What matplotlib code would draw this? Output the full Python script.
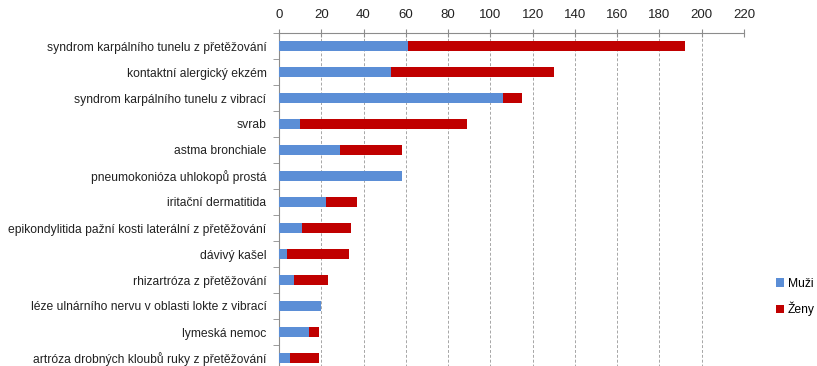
import numpy as np
import matplotlib
matplotlib.use('Agg')
import matplotlib.pyplot as plt

plt.rcParams['font.family'] = ['Liberation Sans', 'DejaVu Sans']

aCategory = ['syndrom karpálního tunelu z přetěžování',
             'kontaktní alergický ekzém',
             'syndrom karpálního tunelu z vibrací',
             'svrab',
             'astma bronchiale',
             'pneumokonióza uhlokopů prostá',
             'iritační dermatitida',
             'epikondylitida pažní kosti laterální z přetěžování',
             'dávivý kašel',
             'rhizartróza z přetěžování',
             'léze ulnárního nervu v oblasti lokte z vibrací',
             'lymeská nemoc',
             'artróza drobných kloubů ruky z přetěžování']
aMuzi = [61, 53, 106, 10, 29, 58, 22, 11, 4, 7, 20, 14, 5]
aZeny = [131, 77, 9, 79, 29, 0, 15, 23, 29, 16, 0, 5, 14]
aXticks = list(range(0, 221, 20))

sColor_m = '#5B8ED6'
sColor_z = '#C00000'
sColor_axis = '#8C8C8C'

fig = plt.figure(dpi=100)
fig.set_figwidth(8.17)
fig.set_figheight(3.66)
ax = fig.add_axes([279 / 817, -5 / 366, (744 - 279) / 817, (371 - 33) / 366])

nCat = len(aCategory)
aY = np.arange(nCat)
ax.barh(aY, aMuzi, height=0.4, color=sColor_m, label='Muži', zorder=3)
ax.barh(aY, aZeny, left=aMuzi, height=0.4, color=sColor_z, label='Ženy', zorder=3)

ax.set_xlim(0, 220)
ax.set_ylim(nCat - 0.5, -0.5)
ax.xaxis.tick_top()
ax.set_xticks(aXticks)
ax.tick_params(axis='x', direction='inout', length=6, color=sColor_axis,
               labelsize=9.5, pad=6, labelcolor='#222222')
for x in aXticks[1:]:
    ax.axvline(x, color='#A6A6A6', linestyle=(0, (3, 2)), linewidth=0.7, zorder=1)

ax.set_yticks(aY)
ax.set_yticklabels(aCategory, fontsize=8.7)
ax.set_yticks(np.arange(nCat + 1) - 0.5, minor=True)
ax.tick_params(axis='y', which='major', length=0, pad=9, labelcolor='#222222')
ax.tick_params(axis='y', which='minor', length=4, color=sColor_axis)

for s in ['right', 'bottom']:
    ax.spines[s].set_visible(False)
ax.spines['top'].set_color(sColor_axis)
ax.spines['left'].set_color(sColor_axis)

fig.legend(loc='upper left', bbox_to_anchor=(771 / 817, 1 - 273 / 366),
           frameon=False, fontsize=8.7, handlelength=0.7, handleheight=0.7,
           handletextpad=0.3, labelspacing=1.0, borderaxespad=0)

plt.savefig('out.png', dpi=100)
plt.close(fig)
